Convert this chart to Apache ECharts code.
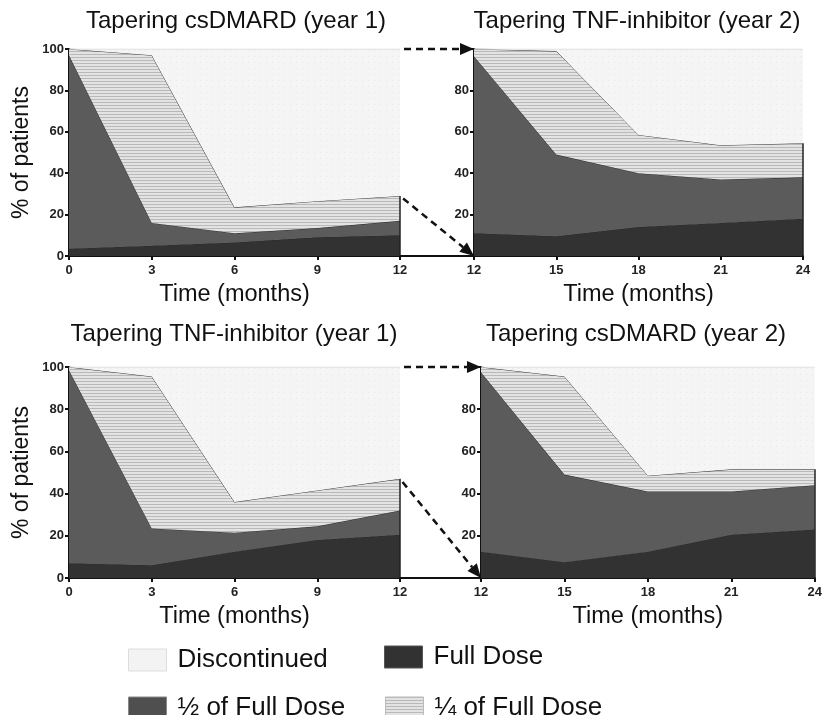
<!DOCTYPE html>
<html><head><meta charset="utf-8">
<script src="https://cdn.jsdelivr.net/npm/echarts@6/dist/echarts.min.js"></script>
<style>html,body{margin:0;padding:0;background:#fff}#c{width:825px;height:715px}</style>
</head><body><div id="c"></div>
<script>
// ---------- data ----------
const monthsYear1 = ['0', '3', '6', '9', '12'];
const monthsYear2 = ['12', '15', '18', '21', '24'];
const yTickStep = 20;
const layerNames = ['Full Dose', '½ of Full Dose', '¼ of Full Dose', 'Discontinued'];
const panelTitles = ['Tapering csDMARD (year 1)', 'Tapering TNF-inhibitor (year 2)',
                     'Tapering TNF-inhibitor (year 1)', 'Tapering csDMARD (year 2)'];
const xAxisTitle = 'Time (months)';
const yAxisTitle = '% of patients';

// Panel 1: Tapering csDMARD (year 1)
const p1Full    = [3.5, 5, 6.5, 9, 10];
const p1Half    = [93.5, 11, 4.5, 4.5, 7];
const p1Quarter = [3, 81, 12.5, 13, 12];
const p1Disc    = [0, 3, 76.5, 73.5, 71];
// Panel 2: Tapering TNF-inhibitor (year 2)
const p2Full    = [11, 9.5, 14, 16, 18];
const p2Half    = [85.5, 39.5, 26, 21, 20];
const p2Quarter = [3.5, 50, 18.5, 16.5, 16.5];
const p2Disc    = [0, 1, 41.5, 46.5, 45.5];
// Panel 3: Tapering TNF-inhibitor (year 1)
const p3Full    = [7, 6, 12.5, 18, 20.5];
const p3Half    = [91.5, 17.5, 9, 6.5, 11.5];
const p3Quarter = [1.5, 72, 14.5, 17, 15];
const p3Disc    = [0, 4.5, 64, 58.5, 53];
// Panel 4: Tapering csDMARD (year 2)
const p4Full    = [12.5, 7.5, 12.5, 20.5, 23];
const p4Half    = [85, 41.5, 28.5, 20.5, 21];
const p4Quarter = [2.5, 46.5, 7.5, 10.5, 7.5];
const p4Disc    = [0, 4.5, 51.5, 48.5, 48.5];

const panels = [
  {months: monthsYear1, layers: [p1Full, p1Half, p1Quarter, p1Disc]},
  {months: monthsYear2, layers: [p2Full, p2Half, p2Quarter, p2Disc]},
  {months: monthsYear1, layers: [p3Full, p3Half, p3Quarter, p3Disc]},
  {months: monthsYear2, layers: [p4Full, p4Half, p4Quarter, p4Disc]}
];

// ---------- styles ----------
function makeStripe() {
  const c = document.createElement('canvas'); c.width = 8; c.height = 3;
  const g = c.getContext('2d');
  g.fillStyle = '#e3e3e3'; g.fillRect(0, 0, 8, 3);
  g.fillStyle = '#b9b9b9'; g.fillRect(0, 0, 8, 1);
  return c;
}
function makeDots() {
  const c = document.createElement('canvas'); c.width = 6; c.height = 6;
  const g = c.getContext('2d');
  g.fillStyle = '#f5f5f5'; g.fillRect(0, 0, 6, 6);
  g.fillStyle = '#e6e6e6'; g.fillRect(2, 2, 1, 1);
  return c;
}
const stripeFill = {image: makeStripe(), repeat: 'repeat'};
const dotFill = {image: makeDots(), repeat: 'repeat'};
const layerFills = ['#323232', '#5b5b5b', stripeFill, dotFill];
const layerLines = ['#2a2a2a', '#2a2a2a', '#3a3a3a', '#dadada'];

const gridBoxes = [
  {left: 69, width: 331, top: 49, height: 207},
  {left: 474, width: 329, top: 49, height: 207},
  {left: 69, width: 331, top: 367, height: 211},
  {left: 481, width: 335, top: 367, height: 211}
];
const FONT = 'Liberation Sans, Arial, sans-serif';

const chart = echarts.init(document.getElementById('c'), null, {renderer: 'canvas'});

const grids = gridBoxes.map(b => Object.assign({containLabel: false}, b));
const xAxes = panels.map((p, i) => ({
  type: 'category', gridIndex: i, data: p.months, boundaryGap: false,
  name: xAxisTitle, nameLocation: 'middle', nameGap: 27,
  nameTextStyle: {fontSize: 23.5, color: '#111', fontFamily: FONT},
  axisLine: {show: true, onZero: false, lineStyle: {color: '#111', width: 2}},
  axisTick: {show: true, length: 4, lineStyle: {color: '#111', width: 2}},
  axisLabel: {fontSize: 13, fontWeight: 'bold', color: '#222', margin: 8, fontFamily: FONT},
  splitLine: {show: false}
}));
const yAxes = panels.map((p, i) => ({
  type: 'value', gridIndex: i, min: 0, max: 100, interval: yTickStep,
  name: (i % 2 === 0) ? yAxisTitle : '', nameLocation: 'middle', nameGap: 36,
  nameTextStyle: {fontSize: 23, color: '#111', fontFamily: FONT},
  axisLine: {show: true, lineStyle: {color: '#111', width: 2}},
  axisTick: {show: true, length: 4, lineStyle: {color: '#111', width: 2}},
  axisLabel: {fontSize: 13, fontWeight: 'bold', color: '#222', margin: 5, fontFamily: FONT,
    formatter: v => (i % 2 === 1 && (v === 0 || v === 100)) ? '' : String(v)},
  splitLine: {show: false}
}));

const series = [];
panels.forEach((p, i) => {
  p.layers.forEach((vals, k) => {
    series.push({
      type: 'line', name: layerNames[k], xAxisIndex: i, yAxisIndex: i,
      stack: 'panel' + i, symbol: 'none', smooth: false,
      data: vals,
      lineStyle: {color: layerLines[k], width: 1},
      itemStyle: {color: typeof layerFills[k] === 'string' ? layerFills[k] : '#cccccc'},
      areaStyle: {color: layerFills[k], opacity: 1},
      z: 2 + k, silent: true
    });
  });
  // right edge of stacked area
  const last = p.months.length - 1;
  const topCum = p.layers[0][last] + p.layers[1][last] + p.layers[2][last];
  series.push({
    type: 'line', name: 'edge', xAxisIndex: i, yAxisIndex: i, symbol: 'none', silent: true,
    data: p.months.map((m, j) => (j === last ? topCum : null)),
    markLine: {silent: true, symbol: 'none', label: {show: false},
      lineStyle: {color: '#222', width: 1.5, type: 'solid'},
      data: [[{coord: [p.months[last], 0]}, {coord: [p.months[last], topCum]}]]},
    lineStyle: {opacity: 0}, z: 8
  });
});

const titles = panelTitles.map((t, i) => ({
  text: t, left: [236, 637, 234, 636][i], top: [9, 9, 322, 322][i],
  textAlign: 'center', padding: 0,
  textStyle: {fontSize: 24, fontWeight: 'normal', color: '#111', fontFamily: FONT}
}));

const legendCommon = {
  itemWidth: 38, itemHeight: 22, icon: 'rect', selectedMode: false, padding: 0,
  textStyle: {fontSize: 26, color: '#111', fontFamily: FONT, padding: [0, 0, 0, 6]}
};
const legendItems = [
  {left: 128, top: 647, item: {name: 'Discontinued', itemStyle: {color: '#f3f3f3', borderColor: '#dddddd', borderWidth: 1}}},
  {left: 128, top: 695, item: {name: '½ of Full Dose', itemStyle: {color: '#4f4f4f', borderColor: '#888', borderWidth: 1}}},
  {left: 384, top: 644, item: {name: 'Full Dose', itemStyle: {color: '#323232', borderColor: '#555', borderWidth: 1}}},
  {left: 385, top: 695, item: {name: '¼ of Full Dose', itemStyle: {color: stripeFill, borderColor: '#bbb', borderWidth: 1}}}
];
const legends = legendItems.map(l => Object.assign({left: l.left, top: l.top, data: [l.item]}, legendCommon));

chart.setOption({
  animation: false, backgroundColor: '#ffffff',
  title: titles, grid: grids, xAxis: xAxes, yAxis: yAxes, legend: legends, series: series
});

// ---------- connector arrows between panels ----------
function px(g, pt) { return chart.convertToPixel({gridIndex: g}, pt); }
function arrow(a, b) {
  const dx = b[0] - a[0], dy = b[1] - a[1], L = Math.hypot(dx, dy);
  const ux = dx / L, uy = dy / L, head = 14, hw = 6;
  const s = [a[0] + ux * 4, a[1] + uy * 4];
  const e = [b[0] - ux * head, b[1] - uy * head];
  return [
    {type: 'line', shape: {x1: s[0], y1: s[1], x2: e[0], y2: e[1]},
     style: {stroke: '#111', lineWidth: 2.5, lineDash: [7, 5]}, z: 20, silent: true},
    {type: 'polygon', shape: {points: [b, [e[0] - uy * hw, e[1] + ux * hw], [e[0] + uy * hw, e[1] - ux * hw]]},
     style: {fill: '#111'}, z: 20, silent: true}
  ];
}
const graphics = [];
[[0, 1], [2, 3]].forEach(([l, r]) => {
  const p = panels[l], last = p.months.length - 1;
  const xEnd = p.months[last];
  const topCum = p.layers[0][last] + p.layers[1][last] + p.layers[2][last];
  const xStart = panels[r].months[0];
  graphics.push(...arrow(px(l, [xEnd, 100]), px(r, [xStart, 100])));
  graphics.push(...arrow(px(l, [xEnd, topCum]), px(r, [xStart, 0])));
  const a0 = px(l, [xEnd, 0]), b0 = px(r, [xStart, 0]);
  graphics.push({type: 'line', shape: {x1: a0[0], y1: a0[1], x2: b0[0], y2: b0[1]},
    style: {stroke: '#111', lineWidth: 2}, z: 20, silent: true});
});
chart.setOption({graphic: graphics});
</script></body></html>
